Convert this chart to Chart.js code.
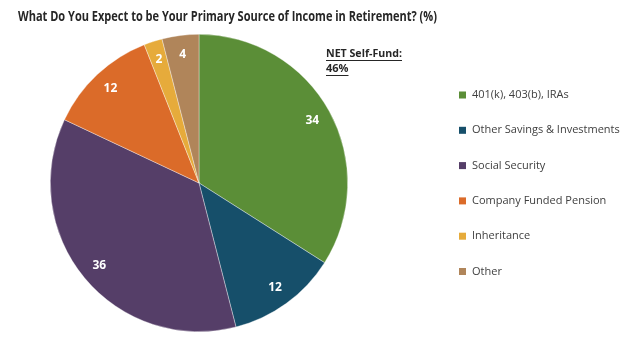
<!DOCTYPE html>
<html>
<head>
<meta charset="utf-8">
<script src="https://cdn.jsdelivr.net/npm/chart.js@4"></script>
<style>
  html, body { margin: 0; padding: 0; background: #fff; }
  #wrap { width: 640px; height: 351px; position: relative; }
</style>
</head>
<body>
<div id="wrap"><canvas id="incomeChart" width="640" height="351"></canvas></div>
<script>
// Data
const categories = ['401(k), 403(b), IRAs', 'Other Savings & Investments', 'Social Security',
  'Company Funded Pension', 'Inheritance', 'Other'];
const shares = [34, 12, 36, 12, 2, 4];
const sliceColors = ['#5b8e37', '#164f6a', '#553e68', '#db6b29', '#e6ab3b', '#b0855a'];

const titleText = 'What Do You Expect to be Your Primary Source of Income in Retirement? (%)';
const noteLines = ['NET Self-Fund:', '46%'];

const FONT = "'Open Sans', 'Liberation Sans', sans-serif";

// Title, note, slice labels and the legend on the right
const decorPlugin = {
  id: 'decor',
  afterDatasetsDraw(chart) {
    const ctx = chart.ctx;
    ctx.save();

    // title (squeezed to the narrow width of the original face)
    ctx.fillStyle = '#262626';
    ctx.font = `bold 14px ${FONT}`;
    ctx.textBaseline = 'middle';
    ctx.textAlign = 'left';
    ctx.fillText(titleText, 18, 17, 419);

    // value labels inside slices
    const meta = chart.getDatasetMeta(0);
    ctx.font = `bold 12px ${FONT}`;
    ctx.fillStyle = '#fff';
    ctx.textAlign = 'center';
    meta.data.forEach((arc, i) => {
      const p = arc.getProps(['x', 'y', 'startAngle', 'endAngle', 'outerRadius'], true);
      const mid = (p.startAngle + p.endAngle) / 2;
      const r = p.outerRadius * 0.87;
      ctx.fillText(String(shares[i]), p.x + Math.cos(mid) * r, p.y + Math.sin(mid) * r);
    });

    // note, underlined
    ctx.fillStyle = '#262626';
    ctx.font = `bold 11px ${FONT}`;
    ctx.textAlign = 'left';
    noteLines.forEach((line, i) => {
      const y = 54 + i * 15;
      ctx.fillText(line, 326, y, 76);
      const w = Math.min(ctx.measureText(line).width, 76);
      ctx.fillRect(326, y + 6, w, 1);
    });

    // legend
    ctx.font = `11px ${FONT}`;
    categories.forEach((label, i) => {
      const y = 95 + i * 35.3;
      ctx.fillStyle = sliceColors[i];
      ctx.fillRect(459, y - 3.5, 7, 7);
      ctx.fillStyle = '#404040';
      ctx.fillText(label, 472, y);
    });

    ctx.restore();
  }
};

new Chart(document.getElementById('incomeChart'), {
  type: 'pie',
  data: {
    labels: categories,
    datasets: [{
      data: shares,
      backgroundColor: sliceColors,
      borderColor: 'rgba(255,255,255,0.6)',
      borderWidth: 0.6
    }]
  },
  options: {
    responsive: false,
    animation: false,
    layout: { padding: { left: 50, top: 34, right: 292, bottom: 19 } },
    plugins: {
      legend: { display: false },
      tooltip: { enabled: false }
    }
  },
  plugins: [decorPlugin]
});
</script>
</body>
</html>
